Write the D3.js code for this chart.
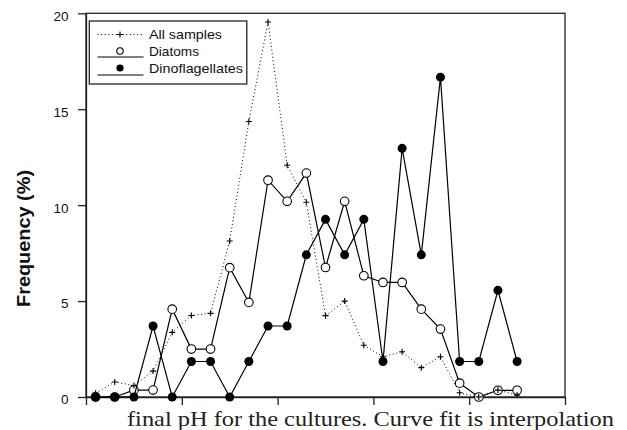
<!DOCTYPE html>
<html>
<head>
<meta charset="utf-8">
<script src="https://cdn.jsdelivr.net/npm/d3@7"></script>
<style>
  html, body { margin: 0; padding: 0; background: #fff; }
  svg { display: block; }
</style>
</head>
<body>
<svg id="chart" width="627" height="430"></svg>
<script>
// pH bins (index of each class along the x axis)
const bins = d3.range(23);

// Frequency (%) per pH class
const allSamples = [0.2, 0.78, 0.6, 1.35, 3.37, 4.25, 4.36, 8.13, 14.36, 19.55, 12.08, 10.15,
                    4.24, 5.0, 2.7, 2.1, 2.36, 1.53, 2.1, 0.22, 0.0, 0.36, 0.1];
const diatoms = [0, 0, 0.36, 0.36, 4.58, 2.5, 2.5, 6.74, 4.93, 11.3, 10.2, 11.67,
                 6.75, 10.2, 6.32, 5.97, 5.97, 4.58, 3.54, 0.72, 0, 0.35, 0.35];
const dinoflagellates = [0, 0, 0, 3.7, 0, 1.85, 1.85, 0, 1.85, 3.7, 3.7, 7.41,
                         9.26, 7.41, 9.26, 1.85, 12.96, 7.41, 16.67, 1.85, 1.85, 5.56, 1.85];

const yTicks = [0, 5, 10, 15, 20];
const xTicks = [0, 5, 10, 15, 20, 25];

const legendLabels = ["All samples", "Diatoms", "Dinoflagellates"];
const yTitle = "Frequency (%)";
const caption = "final pH for the cultures. Curve fit is interpolation";

const svg = d3.select("#chart");
const plotLeft = 86, plotRight = 565, plotTop = 13.3, plotBottom = 397;

const x = d3.scaleLinear().domain([0, 25]).range([plotLeft, plotRight]);
const y = d3.scaleLinear().domain([0, 20]).range([plotBottom, plotTop]);
const px = i => x(i + 0.5);

// frame
svg.append("rect")
  .attr("x", plotLeft).attr("y", plotTop)
  .attr("width", plotRight - plotLeft).attr("height", plotBottom - plotTop)
  .attr("fill", "none").attr("stroke", "#222").attr("stroke-width", 1.3);

// y axis
const yAxis = svg.append("g")
  .attr("transform", `translate(${plotLeft},0)`)
  .call(d3.axisLeft(y).tickValues(yTicks).tickSize(8).tickSizeOuter(0).tickPadding(9.5));
yAxis.select(".domain").attr("stroke", "#222").attr("stroke-width", 1.3);
yAxis.selectAll(".tick line").attr("stroke", "#222").attr("stroke-width", 1.3);
yAxis.selectAll(".tick text")
  .attr("font-family", "Liberation Sans, Arial, sans-serif")
  .attr("font-size", 13.5)
  .attr("fill", "#111")
  .attr("dy", "0.62em")
  .attr("y", -1.5);

// x axis (ticks only)
const xAxis = svg.append("g")
  .attr("transform", `translate(0,${plotBottom})`)
  .call(d3.axisBottom(x).tickValues(xTicks).tickSize(8).tickSizeOuter(0).tickFormat(""));
xAxis.select(".domain").attr("stroke", "#222").attr("stroke-width", 1.3);
xAxis.selectAll(".tick line").attr("stroke", "#222").attr("stroke-width", 1.3);

// y axis title
svg.append("text")
  .attr("transform", "translate(30,238.5) rotate(-90)")
  .attr("text-anchor", "middle")
  .attr("font-family", "Liberation Sans, Arial, sans-serif")
  .attr("font-weight", "bold")
  .attr("font-size", 17.5)
  .attr("textLength", 137)
  .attr("lengthAdjust", "spacingAndGlyphs")
  .attr("fill", "#111")
  .text(yTitle);

const line = d3.line().x((d, i) => px(i)).y(d => y(d));

// Diatoms: solid line with open circles
svg.append("path").datum(diatoms)
  .attr("d", line).attr("fill", "none").attr("stroke", "#000").attr("stroke-width", 1.2);
svg.append("g").selectAll("circle").data(diatoms).join("circle")
  .attr("cx", (d, i) => px(bins[i])).attr("cy", d => y(d)).attr("r", 4.3)
  .attr("fill", "#fff").attr("stroke", "#000").attr("stroke-width", 1.1);

// All samples: dotted line with + markers
svg.append("path").datum(allSamples)
  .attr("d", line).attr("fill", "none").attr("stroke", "#000").attr("stroke-width", 1)
  .attr("stroke-dasharray", "1,2.6");
svg.append("g").selectAll("path").data(allSamples).join("path")
  .attr("d", (d, i) => {
    const cx = px(bins[i]), cy = y(d);
    return `M${cx - 3},${cy}H${cx + 3}M${cx},${cy - 3}V${cy + 3}`;
  })
  .attr("stroke", "#000").attr("stroke-width", 1.1);

// Dinoflagellates: solid line with filled circles
svg.append("path").datum(dinoflagellates)
  .attr("d", line).attr("fill", "none").attr("stroke", "#000").attr("stroke-width", 1.2);
svg.append("g").selectAll("circle").data(dinoflagellates).join("circle")
  .attr("cx", (d, i) => px(bins[i])).attr("cy", d => y(d)).attr("r", 4.5)
  .attr("fill", "#000");

// legend
const lg = svg.append("g");
lg.append("rect")
  .attr("x", 89.3).attr("y", 21).attr("width", 157.5).attr("height", 63)
  .attr("fill", "#fff").attr("stroke", "#222").attr("stroke-width", 1.3);
const rowsY = [34, 51, 68];
const textLens = [73, 50, 94];
// All samples key
lg.append("line").attr("x1", 97.5).attr("x2", 143.5).attr("y1", 34.5).attr("y2", 34.5)
  .attr("stroke", "#000").attr("stroke-dasharray", "1,2.6");
lg.append("path").attr("d", "M117,34.5H123M120,31.5V37.5").attr("stroke", "#000").attr("stroke-width", 1.1);
// Diatoms key
lg.append("line").attr("x1", 97.5).attr("x2", 143.5).attr("y1", 57).attr("y2", 57)
  .attr("stroke", "#000").attr("stroke-width", 1.2);
lg.append("circle").attr("cx", 120).attr("cy", 51).attr("r", 3.2)
  .attr("fill", "#fff").attr("stroke", "#000").attr("stroke-width", 1.1);
// Dinoflagellates key
lg.append("line").attr("x1", 97.5).attr("x2", 143.5).attr("y1", 75).attr("y2", 75)
  .attr("stroke", "#000").attr("stroke-width", 1.2);
lg.append("circle").attr("cx", 120).attr("cy", 68).attr("r", 3.6).attr("fill", "#000");

lg.selectAll("text").data(legendLabels).join("text")
  .attr("x", 149).attr("y", (d, i) => rowsY[i] + 4.6)
  .attr("font-family", "Liberation Sans, Arial, sans-serif")
  .attr("font-size", 13)
  .attr("textLength", (d, i) => textLens[i])
  .attr("lengthAdjust", "spacingAndGlyphs")
  .attr("fill", "#111")
  .text(d => d);

// caption below the axis
svg.append("text")
  .attr("x", 127).attr("y", 426)
  .attr("font-family", "Liberation Serif, Times New Roman, serif")
  .attr("font-size", 21)
  .attr("textLength", 487)
  .attr("lengthAdjust", "spacingAndGlyphs")
  .attr("fill", "#222")
  .text(caption);
</script>
</body>
</html>
